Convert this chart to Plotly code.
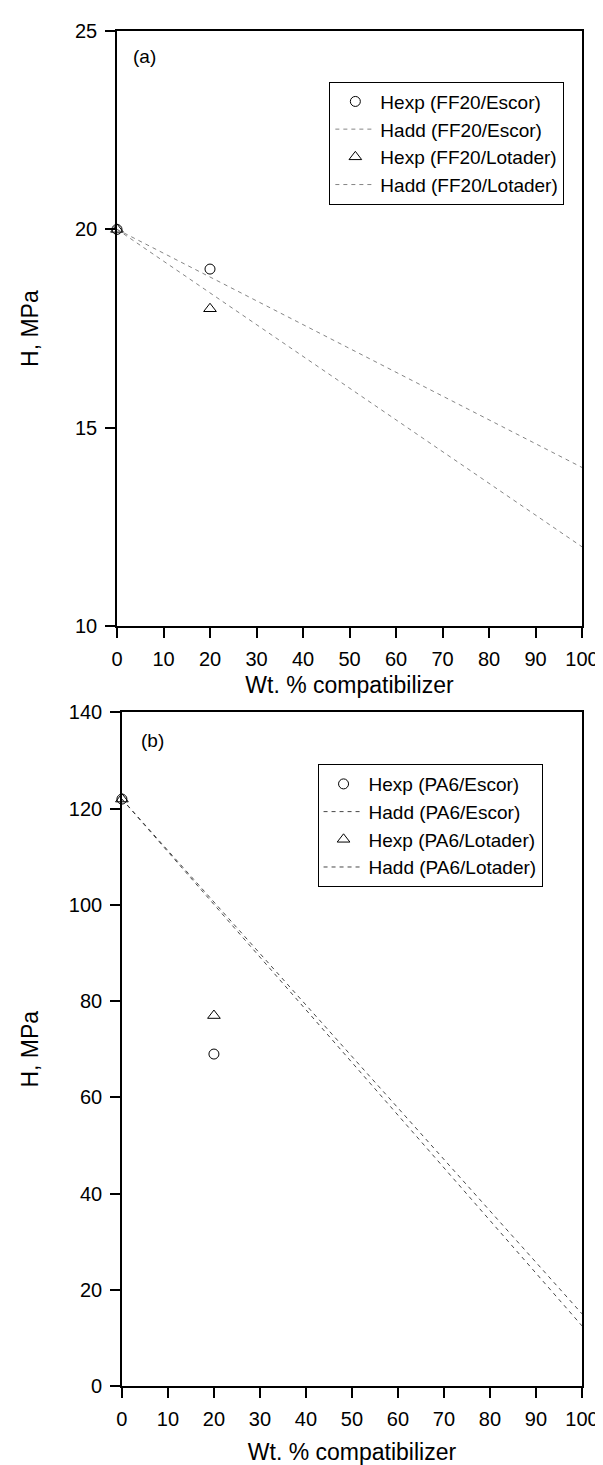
import plotly.graph_objects as go

# Panel (a)
x_exp = [0, 20]
x_add = [0, 100]
a_hexp_escor = [20, 19]
a_hadd_escor = [20, 14]
a_hexp_lotader = [20, 18]
a_hadd_lotader = [20, 12]

# Panel (b)
b_hexp_escor = [122, 69]
b_hadd_escor = [122, 15]
b_hexp_lotader = [122, 77]
b_hadd_lotader = [122, 12.5]

x_ticks = list(range(0, 101, 10))
a_yticks = [10, 15, 20, 25]
b_yticks = list(range(0, 141, 20))

FONT = "Liberation Sans, Arial, sans-serif"
fig = go.Figure()

def add_panel(xa, ya, leg, hexp_e, hadd_e, hexp_l, hadd_l, names, line_col):
    fig.add_trace(go.Scatter(x=x_exp, y=hexp_e, mode="markers", name=names[0],
                             marker=dict(symbol="circle-open", size=10, color="black", line=dict(width=1)),
                             xaxis=xa, yaxis=ya, legend=leg, cliponaxis=False))
    fig.add_trace(go.Scatter(x=x_add, y=hadd_e, mode="lines", name=names[1],
                             line=dict(color=line_col, width=0.9, dash="4px,4px"),
                             xaxis=xa, yaxis=ya, legend=leg))
    fig.add_trace(go.Scatter(x=x_exp, y=hexp_l, mode="markers", name=names[2],
                             marker=dict(symbol="triangle-up-open", size=11, color="black", line=dict(width=1)),
                             xaxis=xa, yaxis=ya, legend=leg, cliponaxis=False))
    fig.add_trace(go.Scatter(x=x_add, y=hadd_l, mode="lines", name=names[3],
                             line=dict(color=line_col, width=0.9, dash="4px,4px"),
                             xaxis=xa, yaxis=ya, legend=leg))

add_panel("x", "y", "legend", a_hexp_escor, a_hadd_escor, a_hexp_lotader, a_hadd_lotader,
          ["Hexp (FF20/Escor)", "Hadd (FF20/Escor)", "Hexp (FF20/Lotader)", "Hadd (FF20/Lotader)"], "#777777")
add_panel("x2", "y2", "legend2", b_hexp_escor, b_hadd_escor, b_hexp_lotader, b_hadd_lotader,
          ["Hexp (PA6/Escor)", "Hadd (PA6/Escor)", "Hexp (PA6/Lotader)", "Hadd (PA6/Lotader)"], "#333333")

ax_common = dict(showline=True, linecolor="black", linewidth=1.5, mirror=True,
                 ticks="outside", ticklen=10, tickwidth=1.5, tickcolor="black",
                 showgrid=False, zeroline=False, ticklabelstandoff=4,
                 tickfont=dict(family=FONT, size=20, color="black"))

L, R, T, B = 109, 21, 21, 78
W, H = 603, 1465
ph = H - T - B
pw = W - L - R

def ypaper(px):
    return (H - B - px) / ph

def xpaper(px):
    return (px - L) / pw

leg_common = dict(xanchor="left", yanchor="top", bgcolor="white", bordercolor="black",
                  borderwidth=1, itemwidth=40,
                  font=dict(family=FONT, size=19, color="black"), tracegroupgap=0)

fig.update_layout(
    width=W, height=H,
    margin=dict(l=L, r=R, t=T, b=B),
    paper_bgcolor="white", plot_bgcolor="white",
    font=dict(family=FONT, color="black"),
    xaxis=dict(**ax_common, range=[0, 100], tickvals=x_ticks, domain=[0, 1], anchor="y",
               title=dict(text="Wt. % compatibilizer", font=dict(size=23), standoff=8)),
    yaxis=dict(**ax_common, range=[10, 25], tickvals=a_yticks, domain=[ypaper(621), ypaper(21)], anchor="x",
               title=dict(text="H, MPa", font=dict(size=23), standoff=30)),
    xaxis2=dict(**ax_common, range=[0, 100], tickvals=x_ticks, domain=[xpaper(114), 1], anchor="y2",
                title=dict(text="Wt. % compatibilizer", font=dict(size=23), standoff=15)),
    yaxis2=dict(**ax_common, range=[0, 140], tickvals=b_yticks, domain=[ypaper(1387), ypaper(708)], anchor="x2",
                title=dict(text="H, MPa", font=dict(size=23), standoff=24)),
    legend=dict(x=xpaper(325), y=ypaper(72), **leg_common),
    legend2=dict(x=xpaper(313), y=ypaper(760), **leg_common),
    showlegend=True,
)

fig.add_annotation(text="(a)", x=3, y=24.35, xref="x", yref="y", showarrow=False,
                   xanchor="left", font=dict(family=FONT, size=19, color="black"))
fig.add_annotation(text="(b)", x=3.8, y=134.1, xref="x2", yref="y2", showarrow=False,
                   xanchor="left", font=dict(family=FONT, size=19, color="black"))

fig.write_html("out.html")
